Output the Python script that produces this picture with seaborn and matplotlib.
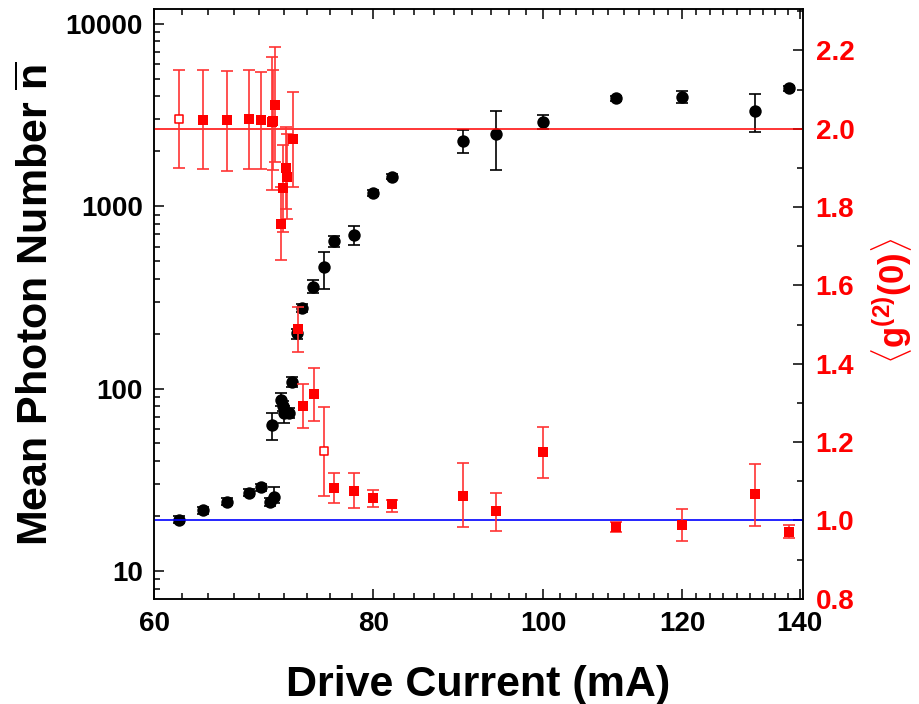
import numpy as np
import pandas as pd
import matplotlib
matplotlib.use("Agg")
import matplotlib.pyplot as plt
import seaborn as sns
from matplotlib.ticker import (FixedLocator, NullFormatter, LogLocator,
                               FuncFormatter, MultipleLocator)

# ---- mean photon number (left axis, log) ----
n_current = [62, 64, 66, 68, 69, 69.9, 70.25, 70.0, 70.9, 71.1, 71.2, 71.6,
             71.9, 72.4, 72.9, 73.9, 75, 76, 78, 80, 82, 90, 94, 100, 110,
             120, 132, 138]
n_mean = [19.1, 21.5, 24.0, 26.9, 28.7, 24.0, 25.6, 63.2, 86.7, 80.4, 73.9,
          73.3, 108.4, 201, 276, 359, 462, 642, 693, 1177, 1451, 2286, 2477,
          2904, 3901, 3966, 3324, 4426]
n_low = [18.3, 20.6, 23.0, 25.8, 27.5, 22.8, 23.5, 52.4, 80.0, 75.0, 64.6,
         69.0, 102, 188, 262, 333, 353, 597, 611, 1130, 1400, 1965, 1585,
         2659, 3780, 3678, 2541, 4300]
n_high = [19.9, 22.4, 25.0, 28.0, 29.9, 25.2, 28.8, 73.9, 94.4, 86.0, 80.0,
          78.0, 115, 212, 290, 394, 563, 689, 779, 1225, 1500, 2616, 3337,
          3173, 4030, 4262, 4104, 4550]

# ---- second-order correlation (right axis) ----
g_current = [62, 64, 66, 68, 69, 70.0, 70.1, 70.3, 70.85, 71.1, 71.3, 71.4,
             72.0, 72.5, 73.0, 74.0, 75, 76, 78, 80, 82, 90, 94, 100, 110,
             120, 132, 138]
g2 = [2.025, 2.023, 2.023, 2.025, 2.023, 2.018, 2.020, 2.061, 1.756, 1.848,
      1.899, 1.878, 1.974, 1.488, 1.292, 1.322, 1.176, 1.083, 1.076, 1.057,
      1.042, 1.063, 1.024, 1.175, 0.982, 0.988, 1.067, 0.971]
g2_low = [1.899, 1.896, 1.893, 1.896, 1.896, 1.844, 1.895, 1.914, 1.665,
          1.737, 1.795, 1.769, 1.850, 1.429, 1.235, 1.254, 1.062, 1.045,
          1.032, 1.035, 1.022, 0.984, 0.973, 1.108, 0.970, 0.947, 0.986,
          0.954]
g2_high = [2.150, 2.150, 2.148, 2.150, 2.145, 2.184, 2.150, 2.208, 1.850,
           1.959, 2.005, 1.987, 2.095, 1.546, 1.348, 1.389, 1.290, 1.120,
           1.120, 1.078, 1.052, 1.146, 1.071, 1.239, 0.995, 1.029, 1.143,
           0.988]
g2_open = [62, 75]          # currents plotted with open symbols

g2_thermal = 2.0
g2_coherent = 1.0

x_ticks = [60, 80, 100, 120, 140]
n_ticks = [10, 100, 1000, 10000]
g_ticks = [0.8, 1.0, 1.2, 1.4, 1.6, 1.8, 2.0, 2.2]

sns.set_theme(style="ticks")
plt.rcParams["font.family"] = ["Liberation Sans", "DejaVu Sans"]
plt.rcParams["font.weight"] = "bold"
plt.rcParams["text.color"] = "black"
plt.rcParams["axes.labelcolor"] = "black"
plt.rcParams["xtick.color"] = "black"
plt.rcParams["ytick.color"] = "black"
plt.rcParams["mathtext.fontset"] = "custom"
plt.rcParams["mathtext.rm"] = "Liberation Sans"
plt.rcParams["mathtext.bf"] = "Liberation Sans:bold"
plt.rcParams["mathtext.it"] = "Liberation Sans:italic"

fig = plt.figure(figsize=(9.19, 7.04), dpi=100)
ax = fig.add_axes([0.1676, 0.1496, 0.8738 - 0.1676, 0.9868 - 0.1496])
ax2 = ax.twinx()

df_n = pd.DataFrame({"current": n_current, "n": n_mean,
                     "lo": n_low, "hi": n_high})
df_g = pd.DataFrame({"current": g_current, "g2": g2,
                     "lo": g2_low, "hi": g2_high})
df_g["open"] = df_g["current"].isin(g2_open)

# photon number: error bars + filled circles
ax.errorbar(df_n["current"], df_n["n"],
            yerr=[df_n["n"] - df_n["lo"], df_n["hi"] - df_n["n"]],
            fmt="none", ecolor="black", elinewidth=1.2, capsize=4.2,
            capthick=1.2, zorder=2)
sns.scatterplot(data=df_n, x="current", y="n", ax=ax, marker="o", s=80,
                color="black", edgecolor="black", linewidth=0, zorder=3,
                legend=False)

# reference levels
ax2.axhline(g2_thermal, color="#ff0000", lw=1.1, zorder=1)
ax2.axhline(g2_coherent, color="#0000ff", lw=1.2, zorder=1)

# g2: error bars + squares
ax2.errorbar(df_g["current"], df_g["g2"],
             yerr=[df_g["g2"] - df_g["lo"], df_g["hi"] - df_g["g2"]],
             fmt="none", ecolor="#ff3333", elinewidth=1.2, capsize=4.2,
             capthick=1.2, zorder=2)
sns.scatterplot(data=df_g[~df_g["open"]], x="current", y="g2", ax=ax2,
                marker="s", s=48, color="#ff0000", edgecolor="#ff0000",
                linewidth=0, zorder=3, legend=False)
sns.scatterplot(data=df_g[df_g["open"]], x="current", y="g2", ax=ax2,
                marker="s", s=40, color="white", edgecolor="#ff0000",
                linewidth=1.1, zorder=3, legend=False)

# x axis: log scale with evenly stepped ticks
ax.set_xscale("log")
ax.set_xlim(60, 140.6)
ax.xaxis.set_major_locator(FixedLocator(x_ticks))
ax.xaxis.set_major_formatter(FuncFormatter(lambda v, p: f"{v:.0f}"))
minors = [a + 20 * k / 9 for a in x_ticks[:-1] for k in range(1, 9)]
ax.xaxis.set_minor_locator(FixedLocator(minors))
ax.xaxis.set_minor_formatter(NullFormatter())

# left axis
ax.set_yscale("log")
ax.set_ylim(7.05, 12000)
ax.yaxis.set_major_locator(FixedLocator(n_ticks))
ax.yaxis.set_major_formatter(FuncFormatter(lambda v, p: f"{v:.0f}"))
ax.yaxis.set_minor_locator(LogLocator(base=10, subs=np.arange(2, 10), numticks=20))
ax.yaxis.set_minor_formatter(NullFormatter())

# right axis
ax2.set_ylim(0.8, 2.305)
ax2.yaxis.set_major_locator(FixedLocator(g_ticks))
ax2.yaxis.set_minor_locator(MultipleLocator(0.1))
ax2.yaxis.set_major_formatter(FuncFormatter(lambda v, p: f"{v:.1f}"))

for a in (ax, ax2):
    for sp in a.spines.values():
        sp.set_linewidth(1.1)
        sp.set_color("black")

ax.tick_params(axis="x", which="both", direction="in", top=True, bottom=True,
               labelsize=20, pad=9, width=1.1, color="black",
               labelcolor="black")
ax.tick_params(axis="x", which="major", length=7.5)
ax.tick_params(axis="x", which="minor", length=4.3)
ax.tick_params(axis="y", which="both", direction="in", left=True, right=False,
               labelsize=20, pad=8, width=1.1, color="black",
               labelcolor="black")
ax.tick_params(axis="y", which="major", length=7.5)
ax.tick_params(axis="y", which="minor", length=4.3)
ax2.tick_params(axis="y", which="both", direction="in", right=True, left=False,
                labelsize=20, pad=9, width=1.1, color="black",
                labelcolor="#ff0000")
ax2.tick_params(axis="y", which="major", length=7.5)
ax2.tick_params(axis="y", which="minor", length=4.3)
for lab in ax.get_xticklabels() + ax.get_yticklabels() + ax2.get_yticklabels():
    lab.set_fontweight("bold")

ax.set_xlabel("Drive Current (mA)", fontsize=31, fontweight="bold",
              color="black")
ax.set_ylabel(r"Mean Photon Number $\mathbf{\overline{n}}$", fontsize=31,
              fontweight="bold", color="black")
ax2.set_ylabel(r"$\langle\mathbf{g^{(2)}(0)}\rangle$", fontsize=25,
               color="#ff0000", fontweight="bold")
ax.xaxis.set_label_coords(0.5, -0.112)
ax.yaxis.set_label_coords(-0.15, 0.5)
ax2.yaxis.set_label_coords(1.102, 0.505)

fig.savefig("out.png", dpi=100)
